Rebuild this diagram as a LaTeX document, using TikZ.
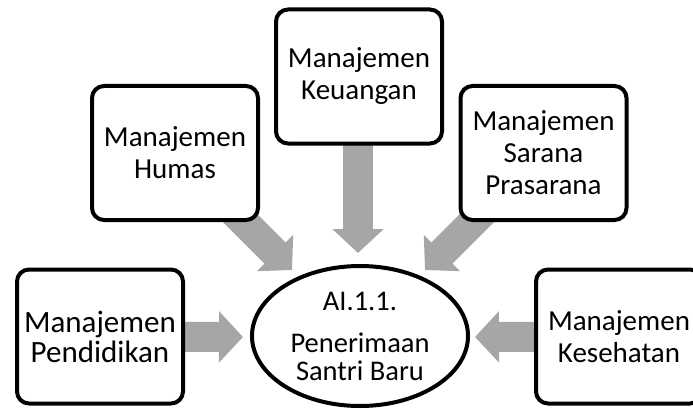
\documentclass[tikz,border=0pt]{standalone}
\usepackage{fontspec}
\setmainfont{Carlito}
\usetikzlibrary{shapes.geometric,arrows.meta}
\pgfdeclarelayer{background}
\pgfsetlayers{background,main}
\definecolor{arrowgray}{RGB}{166,166,166}
\tikzset{
  unitbox/.style={draw, line width=4pt, rounded corners=12pt, fill=white,
    minimum width=166pt, minimum height=134pt, inner sep=0pt, align=center,
    font=\fontsize{29}{32}\selectfont},
  center/.style={draw, ellipse, line width=4pt, fill=white,
    minimum width=216pt, minimum height=140pt, inner sep=0pt, align=center,
    font=\fontsize{28.5}{28}\selectfont},
  blockarrow/.style={draw=arrowgray, line width=30pt,
    -{Triangle[width=50pt, length=24pt, fill=arrowgray]}}
}
\begin{document}
\begin{tikzpicture}[x=1pt, y=-1pt]
  \clip (0,0) rectangle (693,409);
  % management units
  \node[unitbox] (keu) at (359,76.5) {Manajemen\\Keuangan};
  \node[unitbox] (hum) at (175,153) {Manajemen\\Humas};
  \node[unitbox] (sar) at (543.5,153) {Manajemen\\Sarana\\Prasarana};
  \node[unitbox, font=\fontsize{31}{30}\selectfont] (pen) at (100,336.5) {Manajemen\\Pendidikan};
  \node[unitbox] (kes) at (619,336.5) {Manajemen\\Kesehatan};
  % central process
  \node[center] (psb) at (360,336) {AI.1.1.\\[14pt]Penerimaan\\Santri Baru};
  % arrow tips around the central process
  \coordinate (tkeu) at (358,253);
  \coordinate (thum) at (292,270);
  \coordinate (tsar) at (425,270);
  \coordinate (tpen) at (243,337);
  \coordinate (tkes) at (475,337);
  \begin{pgfonlayer}{background}
    \draw[blockarrow] (358,76.5) -- (tkeu);
    \draw[blockarrow] (hum.center) -- (thum);
    \draw[blockarrow] (542,153) -- (tsar);
    \draw[blockarrow] (pen.center) -- (tpen);
    \draw[blockarrow] (kes.center) -- (tkes);
  \end{pgfonlayer}
\end{tikzpicture}
\end{document}
